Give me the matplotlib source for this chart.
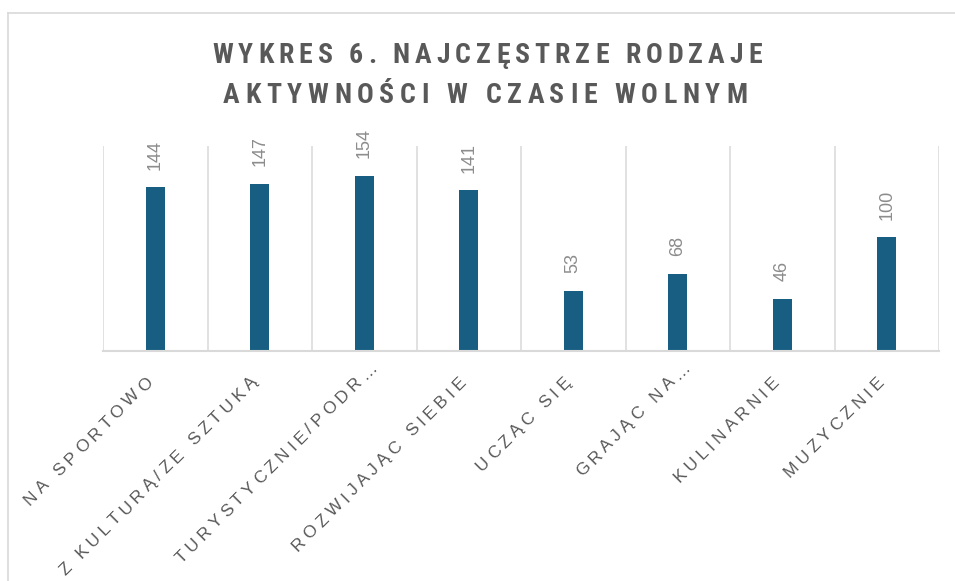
import matplotlib
matplotlib.use("Agg")
import matplotlib.pyplot as plt
from matplotlib.lines import Line2D
from matplotlib.transforms import IdentityTransform
from matplotlib.font_manager import FontProperties, findfont, get_font
import numpy as np

# data
categories = ["NA SPORTOWO", "Z KULTURĄ/ZE SZTUKĄ", "TURYSTYCZNIE/PODR…", "ROZWIJAJĄC SIEBIE",
              "UCZĄC SIĘ", "GRAJĄC NA…", "KULINARNIE", "MUZYCZNIE"]
values = [144, 147, 154, 141, 53, 68, 46, 100]
title_lines = ["WYKRES 6. NAJCZĘSTRZE RODZAJE", "AKTYWNOŚCI W CZASIE WOLNYM"]

BAR = "#175E82"
GRID = "#d9d9d9"
W, H = 955, 581


def pick_font(names):
    for n in names:
        try:
            findfont(FontProperties(family=n), fallback_to_default=False)
            return n
        except Exception:
            pass
    return "DejaVu Sans"


title_font = pick_font(["Roboto Condensed", "Archivo Narrow", "Liberation Sans Narrow",
                        "Liberation Sans", "DejaVu Sans"])
label_font = pick_font(["Liberation Sans", "DejaVu Sans"])

fig = plt.figure(figsize=(W / 100, H / 100), dpi=100)
ax = fig.add_axes([103 / W, 1 - 351 / H, (939 - 103) / W, (351 - 146) / H])

x = np.arange(len(categories))
ax.bar(x, values, width=0.18, color=BAR, zorder=3)
ax.set_xlim(-0.5, len(categories) - 0.5)
ax.set_ylim(0, 180)

# category separators
for b in np.arange(-0.5, len(categories), 1.0):
    ax.axvline(b, color=GRID, lw=1.1, zorder=1)

for s in ["top", "right", "left"]:
    ax.spines[s].set_visible(False)
ax.spines["bottom"].set_color(GRID)
ax.spines["bottom"].set_linewidth(1.5)
ax.spines["bottom"].set_zorder(4)
ax.set_xticks([])
ax.set_yticks([])

# value labels
for xi, v in zip(x, values):
    ax.annotate(str(v), (xi, v), xytext=(0, 12.5), textcoords="offset points",
                rotation=90, ha="center", va="bottom", fontsize=13,
                color="#8c8c8c", family=label_font)


def advances(text, prop):
    f = get_font(findfont(prop))
    f.set_size(prop.get_size_in_points(), fig.dpi)
    out = []
    for ch in text:
        g = f.load_char(ord(ch))
        out.append(g.linearHoriAdvance / 65536)
    return out


def spaced(start, text, angle, spacing, prop, color):
    # draw text letter by letter (letter-spaced), start = baseline start in pixels
    u = np.array([np.cos(np.radians(angle)), np.sin(np.radians(angle))])
    adv = advances(text, prop)
    pos = np.array(start, dtype=float)
    for ch, a in zip(text, adv):
        fig.text(pos[0], pos[1], ch, transform=IdentityTransform(), rotation=angle,
                 rotation_mode="anchor", ha="left", va="baseline",
                 fontproperties=prop, color=color)
        pos = pos + u * (a + spacing)


# title, fitted between measured ink edges
tprop = FontProperties(family=title_font, weight="bold", size=20)
for line, (x0, x1, base) in zip(title_lines, [(212, 762, 63), (223, 747, 103)]):
    adv = advances(line, tprop)
    sp = ((x1 - x0) - sum(adv)) / (len(line) - 1)
    spaced((x0, H - base), line, 0, sp, tprop, "#595959")

# rotated category labels, baseline end near the category centre
lprop = FontProperties(family=label_font, size=12.5)
for xi, lab in zip(x, categories):
    main = lab.rstrip("…")
    tx, ty = ax.transData.transform((xi, 0))
    ex = tx - 2
    ey = ty - 32
    sp = 4.2
    L = sum(advances(main, lprop)) + sp * (len(main) - 1)
    sx = ex - L * 0.7071
    sy = ey - L * 0.7071
    spaced((sx, sy), lab, 45, sp, lprop, "#595959")

# chart frame (partly cropped)
fig.add_artist(Line2D([8 / W, 8 / W], [0, 1 - 13 / H], transform=fig.transFigure,
                      color=GRID, lw=1.2))
fig.add_artist(Line2D([8 / W, 1], [1 - 13 / H, 1 - 13 / H], transform=fig.transFigure,
                      color=GRID, lw=1.2))

fig.savefig("out.png", dpi=100)
